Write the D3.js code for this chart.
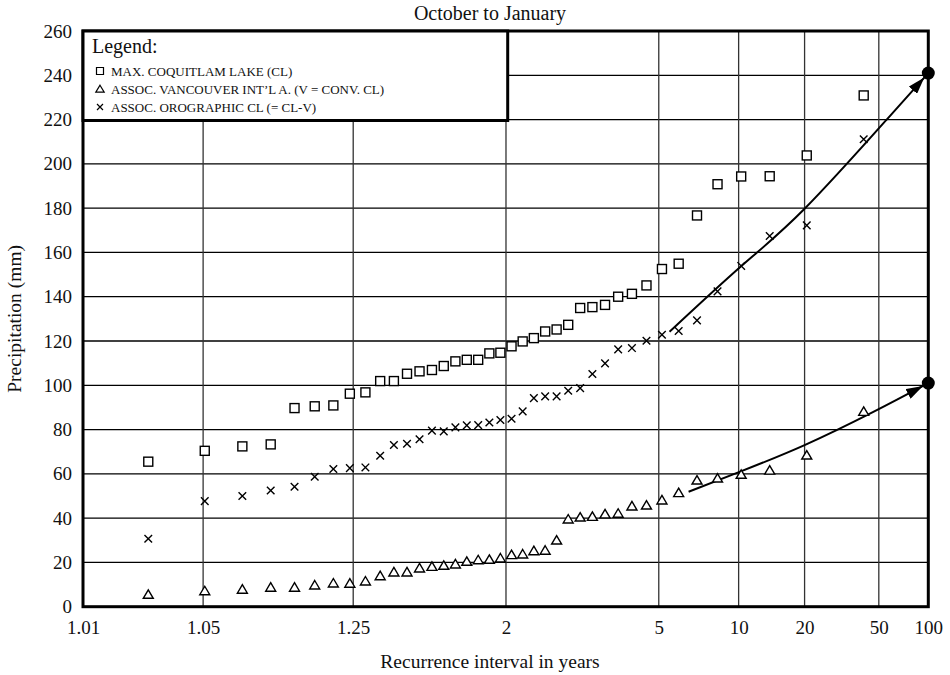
<!DOCTYPE html>
<html>
<head>
<meta charset="utf-8">
<script src="https://cdn.jsdelivr.net/npm/d3@7"></script>
<style>
  body { margin: 0; background: #fff; }
  text { font-family: "Liberation Serif", "DejaVu Serif", serif; fill: #111; }
</style>
</head>
<body>
<div id="chart"></div>
<script>
const WIDTH = 950;
const HEIGHT = 675;

// Plot frame.
const PLOT = {'left': 83, 'right': 928.3, 'top': 31, 'bottom': 606.7};

const TITLE = "October to January";
const X_LABEL = "Recurrence interval in years";
const Y_LABEL = "Precipitation (mm)";

const xTicks = [1.01, 1.05, 1.25, 2, 5, 10, 20, 50, 100];
const xTickLabels = ["1.01", "1.05", "1.25", "2", "5", "10", "20", "50", "100"];
const yTicks = [0, 20, 40, 60, 80, 100, 120, 140, 160, 180, 200, 220, 240, 260];

// Recurrence interval of each ranked year (smallest to largest).
const recurrence = [1.025, 1.051, 1.079, 1.108, 1.139, 1.171, 1.206, 1.242, 1.281, 1.323,
                    1.367, 1.414, 1.464, 1.519, 1.577, 1.64, 1.708, 1.783, 1.864, 1.952,
                    2.05, 2.158, 2.278, 2.412, 2.563, 2.733, 2.929, 3.154, 3.417, 3.727,
                    4.1, 4.556, 5.125, 5.857, 6.833, 8.2, 10.25, 13.67, 20.5, 41];

const coquitlam = [65.5, 70.4, 72.4, 73.3, 89.7, 90.5, 90.9, 96.2, 96.8, 101.9,
                   101.9, 105.2, 106.3, 106.9, 108.7, 110.8, 111.5, 111.5, 114.4, 114.7,
                   117.6, 119.8, 121.3, 124.3, 125.2, 127.3, 134.9, 135.3, 136.3, 140,
                   141.3, 145.1, 152.5, 154.9, 176.7, 190.8, 194.3, 194.4, 203.8, 230.9];

const vancouver = [5.6, 7.2, 7.9, 8.8, 8.8, 9.8, 10.7, 10.6, 11.6, 14.0,
                   15.7, 15.7, 17.5, 18.2, 18.7, 19.3, 20.5, 21.2, 21.4, 22.0,
                   23.5, 23.8, 25.3, 25.5, 30.1, 39.6, 40.5, 40.8, 41.9, 42.2,
                   45.5, 45.9, 48.2, 51.5, 57.2, 58.1, 59.8, 61.7, 68.5, 88.2];

const orographic = [30.7, 47.7, 50, 52.5, 54.2, 58.7, 62.2, 62.6, 62.9, 68.2,
                    73.0, 73.6, 75.6, 79.5, 79.2, 81.0, 81.9, 82.0, 83.2, 84.3,
                    84.9, 88.2, 94.2, 95.0, 95.0, 97.5, 98.7, 105.1, 109.9, 116.2,
                    116.8, 120.1, 122.8, 124.5, 129.3, 142.4, 153.9, 167.4, 172.2, 211.1];

// Hand-drawn trend curves (recurrence interval, mm).
const upperCurveT = [5.44, 10.3, 20, 55.6, 100];
const upperCurveV = [124.2, 154, 179.7, 220.0, 241];
const lowerCurveT = [6.36, 10.15, 20, 46.5, 100];
const lowerCurveV = [51.9, 61, 73, 88, 101];

const legendItems = ["MAX. COQUITLAM LAKE (CL)",
                     "ASSOC. VANCOUVER INT\u2019L A. (V = CONV. CL)",
                     "ASSOC. OROGRAPHIC CL (= CL-V)"];


// Inverse of the standard normal CDF (Acklam).
function normInv(p) {
    var a = [-3.969683028665376e+01, 2.209460984245205e+02, -2.759285104469687e+02,
             1.383577518672690e+02, -3.066479806614716e+01, 2.506628277459239e+00];
    var b = [-5.447609879822406e+01, 1.615858368580409e+02, -1.556989798598866e+02,
             6.680131188771972e+01, -1.328068155288572e+01];
    var c = [-7.784894002430293e-03, -3.223964580411365e-01, -2.400758277161838e+00,
             -2.549732539343734e+00, 4.374664141464968e+00, 2.938163982698783e+00];
    var d = [7.784695709041462e-03, 3.224671290700398e-01, 2.445134137142996e+00,
             3.754408661907416e+00];
    var plow = 0.02425, q, r;
    if (p < plow) {
        q = Math.sqrt(-2 * Math.log(p));
        return (((((c[0]*q+c[1])*q+c[2])*q+c[3])*q+c[4])*q+c[5]) /
               ((((d[0]*q+d[1])*q+d[2])*q+d[3])*q+1);
    }
    if (p > 1 - plow) {
        q = Math.sqrt(-2 * Math.log(1 - p));
        return -(((((c[0]*q+c[1])*q+c[2])*q+c[3])*q+c[4])*q+c[5]) /
                ((((d[0]*q+d[1])*q+d[2])*q+d[3])*q+1);
    }
    q = p - 0.5;
    r = q * q;
    return (((((a[0]*r+a[1])*r+a[2])*r+a[3])*r+a[4])*r+a[5])*q /
           (((((b[0]*r+b[1])*r+b[2])*r+b[3])*r+b[4])*r+1);
}

// recurrence interval -> normal probability axis
function zOf(T) { return normInv(1 - 1 / T); }


window.onload = function() {

    var svg = d3.select("#chart").append("svg")
                .attr("width", WIDTH)
                .attr("height", HEIGHT);

    var zScale = d3.scaleLinear()
                   .domain([zOf(1.01), zOf(100)])
                   .range([PLOT.left, PLOT.right]);
    var x = function(T) { return zScale(zOf(T)); };

    var y = d3.scaleLinear()
              .domain([0, 260])
              .range([PLOT.bottom, PLOT.top]);

    var defs = svg.append("defs");
    defs.append("marker")
        .attr("id", "arrow")
        .attr("markerUnits", "userSpaceOnUse")
        .attr("viewBox", "0 0 17 11")
        .attr("markerWidth", 17)
        .attr("markerHeight", 11)
        .attr("refX", 23)
        .attr("refY", 5.5)
        .attr("orient", "auto")
        .append("path")
        .attr("d", "M0,0 L17,5.5 L0,11 z")
        .attr("fill", "#000");

    // Grid.
    var grid = svg.append("g").attr("class", "grid");
    grid.selectAll("line.h")
        .data(yTicks.slice(1, -1))
        .enter()
        .append("line")
        .attr("class", "h")
        .attr("x1", PLOT.left).attr("x2", PLOT.right)
        .attr("y1", function(d) { return y(d); })
        .attr("y2", function(d) { return y(d); })
        .attr("stroke", "#000")
        .attr("stroke-width", 1.3);

    grid.selectAll("line.v")
        .data(xTicks.slice(1, -1))
        .enter()
        .append("line")
        .attr("class", "v")
        .attr("y1", PLOT.top).attr("y2", PLOT.bottom)
        .attr("x1", function(d) { return x(d); })
        .attr("x2", function(d) { return x(d); })
        .attr("stroke", "#333")
        .attr("stroke-width", 1.3);

    // Axes.
    var xAxis = d3.axisBottom(zScale)
                  .tickValues(xTicks.map(zOf))
                  .tickFormat(function(d, i) { return xTickLabels[i]; })
                  .tickSize(0)
                  .tickPadding(14);
    svg.append("g")
       .attr("transform", "translate(0," + PLOT.bottom + ")")
       .call(xAxis)
       .call(function(g) { g.select(".domain").remove(); })
       .selectAll("text")
       .attr("font-size", "19px")
       .attr("font-family", "Liberation Serif");

    var yAxis = d3.axisLeft(y)
                  .tickValues(yTicks)
                  .tickSize(0)
                  .tickPadding(11);
    svg.append("g")
       .attr("transform", "translate(" + PLOT.left + ",0)")
       .call(yAxis)
       .call(function(g) { g.select(".domain").remove(); })
       .selectAll("text")
       .attr("font-size", "19px")
       .attr("font-family", "Liberation Serif");

    // Frame.
    svg.append("rect")
       .attr("x", PLOT.left).attr("y", PLOT.top)
       .attr("width", PLOT.right - PLOT.left)
       .attr("height", PLOT.bottom - PLOT.top)
       .attr("fill", "none")
       .attr("stroke", "#000")
       .attr("stroke-width", 3);

    // Curves with arrows.
    var line = d3.line()
                 .x(function(d) { return x(d[0]); })
                 .y(function(d) { return y(d[1]); })
                 .curve(d3.curveNatural);

    [[upperCurveT, upperCurveV], [lowerCurveT, lowerCurveV]].forEach(function(c) {
        var pts = d3.zip(c[0], c[1]);
        svg.append("path")
           .attr("d", line(pts))
           .attr("fill", "none")
           .attr("stroke", "#000")
           .attr("stroke-width", 2)
           .attr("marker-end", "url(#arrow)");
        var last = pts[pts.length - 1];
        svg.append("circle")
           .attr("cx", x(last[0]))
           .attr("cy", y(last[1]))
           .attr("r", 6.5)
           .attr("fill", "#000");
    });

    // Points.
    var squares = svg.append("g");
    squares.selectAll("rect")
           .data(d3.zip(recurrence, coquitlam))
           .enter()
           .append("rect")
           .attr("x", function(d) { return x(d[0]) - 4.5; })
           .attr("y", function(d) { return y(d[1]) - 4.5; })
           .attr("width", 9).attr("height", 9)
           .attr("fill", "#fff")
           .attr("stroke", "#000")
           .attr("stroke-width", 1.4);

    var triangle = "M0,-4.5 L5,4 L-5,4 Z";
    svg.append("g").selectAll("path")
       .data(d3.zip(recurrence, vancouver))
       .enter()
       .append("path")
       .attr("d", triangle)
       .attr("transform", function(d) { return "translate(" + x(d[0]) + "," + y(d[1]) + ")"; })
       .attr("fill", "#fff")
       .attr("stroke", "#000")
       .attr("stroke-width", 1.4);

    var cross = "M-3.8,-3.8 L3.8,3.8 M-3.8,3.8 L3.8,-3.8";
    svg.append("g").selectAll("path")
       .data(d3.zip(recurrence, orographic))
       .enter()
       .append("path")
       .attr("d", cross)
       .attr("transform", function(d) { return "translate(" + x(d[0]) + "," + y(d[1]) + ")"; })
       .attr("fill", "none")
       .attr("stroke", "#000")
       .attr("stroke-width", 1.4);

    // Legend.
    var legend = svg.append("g");
    legend.append("rect")
          .attr("x", PLOT.left).attr("y", PLOT.top)
          .attr("width", 507.7 - PLOT.left)
          .attr("height", 120.5 - PLOT.top)
          .attr("fill", "#fff")
          .attr("stroke", "#000")
          .attr("stroke-width", 3);
    legend.append("text")
          .attr("x", 92).attr("y", 53)
          .attr("font-size", "20px")
          .text("Legend:");

    var symbols = [
        "M-3.5,-3.5 h7 v7 h-7 Z",
        "M0,-3.8 L4.2,3.2 L-4.2,3.2 Z",
        "M-3,-3 L3,3 M-3,3 L3,-3"
    ];
    legendItems.forEach(function(label, i) {
        var cy = 71 + i * 18;
        legend.append("path")
              .attr("d", symbols[i])
              .attr("transform", "translate(100," + cy + ")")
              .attr("fill", "#fff")
              .attr("stroke", "#000")
              .attr("stroke-width", 1.2);
        legend.append("text")
              .attr("x", 111).attr("y", cy + 4.5)
              .attr("font-size", "13px")
              .text(label);
    });

    // Titles.
    svg.append("text")
       .attr("x", 490).attr("y", 20)
       .attr("text-anchor", "middle")
       .attr("font-size", "20px")
       .text(TITLE);

    svg.append("text")
       .attr("x", 490).attr("y", 668)
       .attr("text-anchor", "middle")
       .attr("font-size", "19.5px")
       .text(X_LABEL);

    svg.append("text")
       .attr("transform", "translate(21," + ((PLOT.top + PLOT.bottom) / 2) + ") rotate(-90)")
       .attr("text-anchor", "middle")
       .attr("font-size", "19.5px")
       .text(Y_LABEL);
};
</script>
</body>
</html>
